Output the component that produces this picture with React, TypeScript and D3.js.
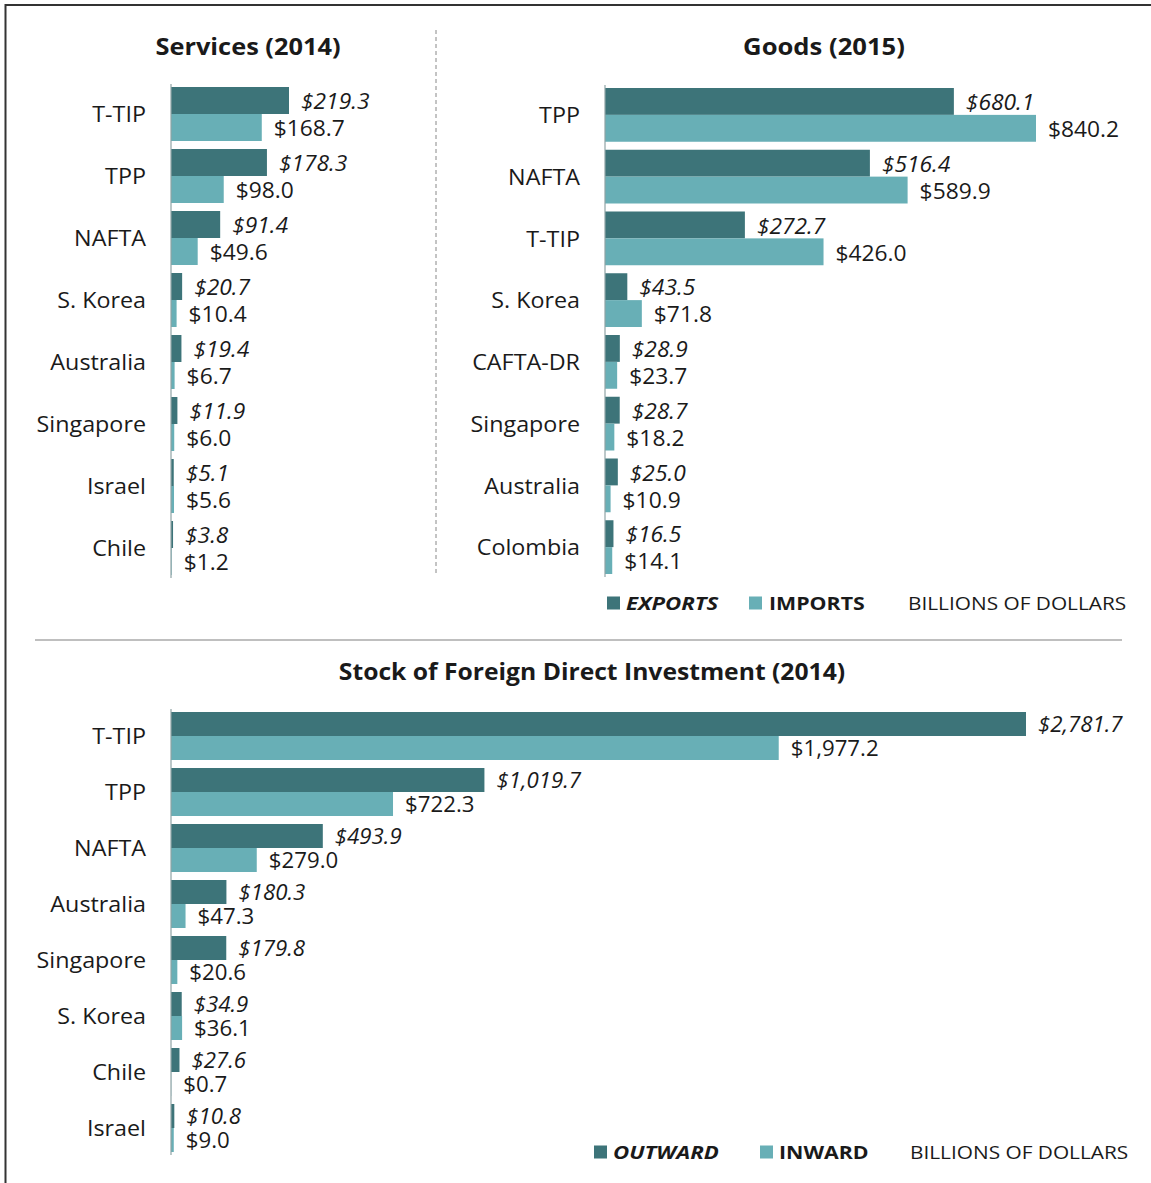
import React from "react";
import * as d3 from "d3";

const servicesCats = ["T-TIP", "TPP", "NAFTA", "S. Korea", "Australia", "Singapore", "Israel", "Chile"];
const servicesExports = [219.3, 178.3, 91.4, 20.7, 19.4, 11.9, 5.1, 3.8];
const servicesImports = [168.7, 98.0, 49.6, 10.4, 6.7, 6.0, 5.6, 1.2];

const goodsCats = ["TPP", "NAFTA", "T-TIP", "S. Korea", "CAFTA-DR", "Singapore", "Australia", "Colombia"];
const goodsExports = [680.1, 516.4, 272.7, 43.5, 28.9, 28.7, 25.0, 16.5];
const goodsImports = [840.2, 589.9, 426.0, 71.8, 23.7, 18.2, 10.9, 14.1];

const fdiCats = ["T-TIP", "TPP", "NAFTA", "Australia", "Singapore", "S. Korea", "Chile", "Israel"];
const fdiOutward = [2781.7, 1019.7, 493.9, 180.3, 179.8, 34.9, 27.6, 10.8];
const fdiInward = [1977.2, 722.3, 279.0, 47.3, 20.6, 36.1, 0.7, 9.0];

const DARK = "#3d7479";
const LIGHT = "#68afb6";
const FONT = "'Open Sans', Lato, sans-serif";
const TXT = "#1a1a1a";

const fmt = (v: number) => "$" + d3.format(",.1f")(v);

type TProps = {
  x: number;
  y: number;
  size: number;
  sx?: number;
  anchor?: "start" | "middle" | "end";
  bold?: boolean;
  italic?: boolean;
  children: React.ReactNode;
};

function T({ x, y, size, sx = 1, anchor = "start", bold, italic, children }: TProps) {
  return (
    <text
      transform={`translate(${x},${y}) scale(${sx},1)`}
      textAnchor={anchor}
      dominantBaseline="central"
      fontSize={size}
      fontWeight={bold ? "bold" : "normal"}
      fontStyle={italic ? "italic" : "normal"}
      fill={TXT}
    >
      {children}
    </text>
  );
}

type PanelProps = {
  cats: string[];
  a: number[];
  b: number[];
  x0: number;
  x1: number;
  y0: number;
  y1: number;
  labelX: number;
  gap: number;
  valSize: number;
};

function Panel({ cats, a, b, x0, x1, y0, y1, labelX, gap, valSize }: PanelProps) {
  const max = d3.max(a.concat(b)) as number;
  const x = d3.scaleLinear().domain([0, max]).range([x0, x1]);
  const y = d3.scaleBand<string>().domain(cats).range([y0, y1]);
  const bw = y.bandwidth();
  const gh = bw - gap;
  const bh = gh / 2;
  return (
    <g>
      {cats.map((c, i) => {
        const top = (y(c) as number) + gap / 2;
        return (
          <g key={c}>
            <rect x={x(0)} y={top} width={x(a[i]) - x(0)} height={bh} fill={DARK} />
            <rect x={x(0)} y={top + bh} width={x(b[i]) - x(0)} height={bh} fill={LIGHT} />
            <T x={labelX} y={top + gh / 2} size={22} sx={1.06} anchor="end">
              {c}
            </T>
            <T x={x(a[i]) + 12} y={top + bh / 2} size={valSize} sx={1.06} italic>
              {fmt(a[i])}
            </T>
            <T x={x(b[i]) + 12} y={top + bh * 1.5} size={valSize} sx={1.06}>
              {fmt(b[i])}
            </T>
          </g>
        );
      })}
      <line x1={x(0)} x2={x(0)} y1={y0 + 1} y2={y1 - 1} stroke="#8fa3a5" strokeWidth={1.2} />
    </g>
  );
}

type LegendProps = {
  y: number;
  l1: string;
  l2: string;
  sq1: number;
  tx1: number;
  sq2: number;
  tx2: number;
  tx3: number;
};

function Legend({ y, l1, l2, sq1, tx1, sq2, tx2, tx3 }: LegendProps) {
  const sz = 17.5;
  return (
    <g>
      <rect x={sq1} y={y - 6.5} width={13} height={13} fill={DARK} />
      <T x={tx1} y={y} size={sz} sx={1.27} bold italic>
        {l1}
      </T>
      <rect x={sq2} y={y - 6.5} width={13} height={13} fill={LIGHT} />
      <T x={tx2} y={y} size={sz} sx={1.22} bold>
        {l2}
      </T>
      <T x={tx3} y={y} size={sz} sx={1.19}>
        BILLIONS OF DOLLARS
      </T>
    </g>
  );
}

export default function App() {
  return (
    <div style={{ position: "absolute", left: 0, top: 0 }}>
      <svg width={1151} height={1183} style={{ display: "block", fontFamily: FONT }}>
        <rect x={0} y={0} width={1151} height={1183} fill="#fff" />
        <rect x={5.5} y={5} width={1160} height={1200} fill="none" stroke="#333" strokeWidth={2} />
        <T x={248} y={46} size={23.5} sx={1.08} anchor="middle" bold>
          Services (2014)
        </T>
        <T x={824} y={46} size={23.5} sx={1.09} anchor="middle" bold>
          Goods (2015)
        </T>
        <line x1={436} x2={436} y1={30} y2={576} stroke="#888" strokeWidth={1} strokeDasharray="4,3" />
        <Panel cats={servicesCats} a={servicesExports} b={servicesImports} x0={171} x1={289} y0={83} y1={579} labelX={146} gap={8} valSize={21.5} />
        <Panel cats={goodsCats} a={goodsExports} b={goodsImports} x0={605} x1={1036} y0={84} y1={578} labelX={580} gap={8} valSize={21.5} />
        <Legend y={603} l1="EXPORTS" l2="IMPORTS" sq1={607} tx1={626} sq2={749} tx2={769} tx3={908} />
        <line x1={35} x2={1122} y1={640} y2={640} stroke="#aaa" strokeWidth={1.5} />
        <T x={592} y={671} size={23.5} sx={1.05} anchor="middle" bold>
          Stock of Foreign Direct Investment (2014)
        </T>
        <Panel cats={fdiCats} a={fdiOutward} b={fdiInward} x0={171} x1={1026} y0={708} y1={1156} labelX={146} gap={8} valSize={21} />
        <Legend y={1152} l1="OUTWARD" l2="INWARD" sq1={594} tx1={613} sq2={760} tx2={779} tx3={910} />
      </svg>
    </div>
  );
}
